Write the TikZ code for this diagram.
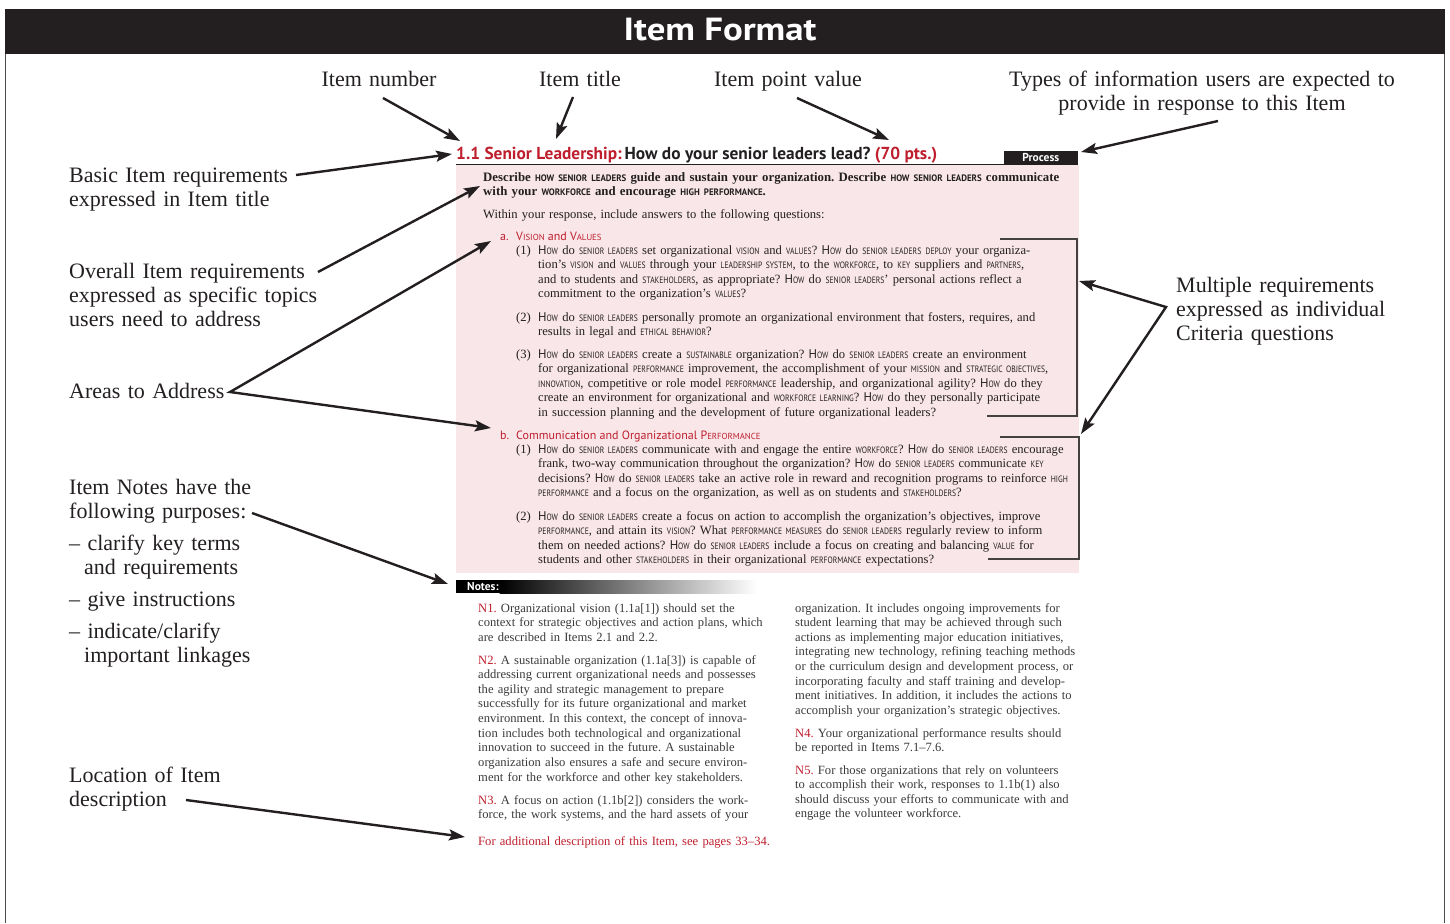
\documentclass[tikz,border=0pt]{standalone}
\usepackage{fontspec}
\usepackage{graphicx}
\setmainfont{Liberation Serif}
\newfontfamily\psf{PT Sans}
\newfontfamily\ksf[Scale=0.73]{PT Sans}
\usetikzlibrary{arrows.meta}
\definecolor{ink}{HTML}{231F20}
\definecolor{bred}{HTML}{BE1E2D}
\definecolor{pinkbg}{RGB}{248,230,232}
\definecolor{notegray}{HTML}{3A3A3A}
\def\kx{0.83}
\newcommand\K[1]{\scalebox{\kx}[1]{\ksf #1}}
\newcommand\How{{\psf H}\K{OW}}
\frenchspacing
\tikzset{
  lbl/.style={inner sep=0pt, anchor=base west, text width=420pt, align=left,
    font=\fontsize{22}{24}\selectfont, text=ink},
  lblc/.style={inner sep=0pt, anchor=base, text width=420pt, align=center,
    font=\fontsize{22}{24}\selectfont, text=ink},
  para/.style={inner sep=0pt, anchor=base west, text width=580pt, align=left,
    font=\frenchspacing\fontsize{12.6}{14.65}\selectfont, text=ink},
  note/.style={inner sep=0pt, anchor=base west, text width=330pt, align=left,
    font=\frenchspacing\fontsize{12.6}{14.65}\selectfont, text=notegray},
  shead/.style={inner sep=0pt, anchor=base west, text=bred,
    font=\def\kx{1}\psf\fontsize{12}{14}\selectfont},
  arr/.style={line width=2.4pt, draw=ink, -{Stealth[length=16pt,width=11pt,inset=3pt]}},
  arr2/.style={line width=2.4pt, draw=ink, {Stealth[length=16pt,width=11pt,inset=3pt]}-{Stealth[length=16pt,width=11pt,inset=3pt]}},
  bracket/.style={line width=1.1pt, draw=ink!85},
  frame/.style={line width=0.8pt, draw=ink!80},
}
\begin{document}
\begin{tikzpicture}[x=1pt,y=-1pt]
\useasboundingbox (0,0) rectangle (1450,923);
% header bar and frame
\fill[ink] (5,9) rectangle (1445,54);
\node[text=white, inner sep=0, font=\psf\bfseries\fontsize{32}{34}\selectfont] (hdr) at (720,30) {\scalebox{1.15}[1]{Item Format}};
\draw[frame] (5,54) -- (5,923);
\draw[frame] (1444.5,54) -- (1444.5,923);

% pink box
\fill[pinkbg] (456,165) rectangle (1079,573);
\draw[line width=1.5pt, ink] (456,164.5) -- (1078,164.5);
\node[fill=ink, text=white, font=\psf\bfseries\fontsize{11.5}{12}\selectfont, minimum width=74pt, minimum height=13pt, inner sep=0, anchor=south east] (proc) at (1078,164) {Process};
\node[anchor=base west, inner sep=0] (title) at (456,159)
  {\resizebox{481pt}{!}{\psf\bfseries\fontsize{15}{17}\selectfont\color{bred}1.1 Senior Leadership:\,\color{ink}How do your senior leaders lead? \color{bred}(70 pts.)}};

% pink box text
\node[para, font=\def\kx{0.95}\frenchspacing\bfseries\fontsize{12.8}{14.65}\selectfont] (desc) at (483,181)
  {Describe \K{HOW SENIOR LEADERS} guide and sustain your organization. Describe \K{HOW SENIOR LEADERS} communicate\\
   with your \K{WORKFORCE} and encourage \K{HIGH PERFORMANCE}.};
\node[para] (within) at (483,218) {Within your response, include answers to the following questions:};

\node[shead] (alab) at (500,240) {a.};
\node[shead] (ahead) at (516,240) {V\K{ISION} and V\K{ALUES}};
\node[para] (a1n) at (516,254) {(1)};
\node[para] (a1) at (538,254)
  {\How{} do \K{SENIOR LEADERS} set organizational \K{VISION} and \K{VALUES}? \How{} do \K{SENIOR LEADERS} \K{DEPLOY} your organiza-\\
   tion’s \K{VISION} and \K{VALUES} through your \K{LEADERSHIP SYSTEM}, to the \K{WORKFORCE}, to \K{KEY} suppliers and \K{PARTNERS},\\
   and to students and \K{STAKEHOLDERS}, as appropriate? \How{} do \K{SENIOR LEADERS}’ personal actions reflect a\\
   commitment to the organization’s \K{VALUES}?};
\node[para] (a2n) at (516,321) {(2)};
\node[para] (a2) at (538,321)
  {\How{} do \K{SENIOR LEADERS} personally promote an organizational environment that fosters, requires, and\\
   results in legal and \K{ETHICAL BEHAVIOR}?};
\node[para] (a3n) at (516,358) {(3)};
\node[para] (a3) at (538,358)
  {\How{} do \K{SENIOR LEADERS} create a \K{SUSTAINABLE} organization? \How{} do \K{SENIOR LEADERS} create an environment\\
   for organizational \K{PERFORMANCE} improvement, the accomplishment of your \K{MISSION} and \K{STRATEGIC OBJECTIVES},\\
   \K{INNOVATION}, competitive or role model \K{PERFORMANCE} leadership, and organizational agility? \How{} do they\\
   create an environment for organizational and \K{WORKFORCE LEARNING}? \How{} do they personally participate\\
   in succession planning and the development of future organizational leaders?};

\node[shead] (blab) at (500,439) {b.};
\node[shead] (bhead) at (516,439) {Communication and Organizational P\K{ERFORMANCE}};
\node[para] (b1n) at (516,453) {(1)};
\node[para] (b1) at (538,453)
  {\How{} do \K{SENIOR LEADERS} communicate with and engage the entire \K{WORKFORCE}? \How{} do \K{SENIOR LEADERS} encourage\\
   frank, two-way communication throughout the organization? \How{} do \K{SENIOR LEADERS} communicate \K{KEY}\\
   decisions? \How{} do \K{SENIOR LEADERS} take an active role in reward and recognition programs to reinforce \K{HIGH}\\
   \K{PERFORMANCE} and a focus on the organization, as well as on students and \K{STAKEHOLDERS}?};
\node[para] (b2n) at (516,520) {(2)};
\node[para] (b2) at (538,520)
  {\How{} do \K{SENIOR LEADERS} create a focus on action to accomplish the organization’s objectives, improve\\
   \K{PERFORMANCE}, and attain its \K{VISION}? What \K{PERFORMANCE MEASURES} do \K{SENIOR LEADERS} regularly review to inform\\
   them on needed actions? \How{} do \K{SENIOR LEADERS} include a focus on creating and balancing \K{VALUE} for\\
   students and other \K{STAKEHOLDERS} in their organizational \K{PERFORMANCE} expectations?};

% brackets
\draw[bracket] (1000,239) -| (1077,416) -- (987,416);
\draw[bracket] (1000,437) -| (1079,559) -- (988,559);

% notes bar
\fill[black] (456,580) rectangle (500,593);
\shade[left color=black, right color=white] (499.5,580) rectangle (757,593);
\node[anchor=west, inner sep=0, text=white, font=\psf\bfseries\fontsize{11.5}{12}\selectfont] (notes) at (467,586.5) {Notes:};

\node[note] (n1) at (478,612)
  {\textcolor{bred}{N1.} Organizational vision (1.1a[1]) should set the\\
   context for strategic objectives and action plans, which\\
   are described in Items 2.1 and 2.2.};
\node[note] (n2) at (478,664)
  {\textcolor{bred}{N2.} A sustainable organization (1.1a[3]) is capable of\\
   addressing current organizational needs and possesses\\
   the agility and strategic management to prepare\\
   successfully for its future organizational and market\\
   environment. In this context, the concept of innova-\\
   tion includes both technological and organizational\\
   innovation to succeed in the future. A sustainable\\
   organization also ensures a safe and secure environ-\\
   ment for the workforce and other key stakeholders.};
\node[note] (n3) at (478,804)
  {\textcolor{bred}{N3.} A focus on action (1.1b[2]) considers the work-\\
   force, the work systems, and the hard assets of your};
\node[note, text=bred] (addl) at (478,845)
  {For additional description of this Item, see pages 33–34.};
\node[note] (n3b) at (795,612)
  {organization. It includes ongoing improvements for\\
   student learning that may be achieved through such\\
   actions as implementing major education initiatives,\\
   integrating new technology, refining teaching methods\\
   or the curriculum design and development process, or\\
   incorporating faculty and staff training and develop-\\
   ment initiatives. In addition, it includes the actions to\\
   accomplish your organization’s strategic objectives.};
\node[note] (n4) at (795,737)
  {\textcolor{bred}{N4.} Your organizational performance results should\\
   be reported in Items 7.1–7.6.};
\node[note] (n5) at (795,774)
  {\textcolor{bred}{N5.} For those organizations that rely on volunteers\\
   to accomplish their work, responses to 1.1b(1) also\\
   should discuss your efforts to communicate with and\\
   engage the volunteer workforce.};

% labels
\node[lblc] (lnum) at (379,87) {Item number};
\node[lblc] (ltitle) at (580,87) {Item title};
\node[lblc] (lpts) at (788,87) {Item point value};
\node[lblc] (ltypes) at (1202,87) {Types of information users are expected to\\provide in response to this Item};
\node[lbl] (lbasic) at (69,182) {Basic Item requirements\\expressed in Item title};
\node[lbl] (loverall) at (69,278) {Overall Item requirements\\expressed as specific topics\\users need to address};
\node[lbl] (lareas) at (69,398) {Areas to Address};
\node[lbl] (lnotes) at (69,494) {Item Notes have the\\following purposes:};
\node[lbl] (lclar) at (69,550) {\textendash{} clarify key terms\\\hspace*{15pt}and requirements};
\node[lbl] (lgive) at (69,606) {\textendash{} give instructions};
\node[lbl] (lind) at (69,638) {\textendash{} indicate/clarify\\\hspace*{15pt}important linkages};
\node[lbl] (lloc) at (69,782) {Location of Item\\description};
\node[lbl] (lmult) at (1176,292) {Multiple requirements\\expressed as individual\\Criteria questions};

% arrow anchor coordinates
\coordinate (tnum) at (383,98);   \coordinate (hnum) at (460,141);
\coordinate (ttit) at (573,97);   \coordinate (htit) at (556,139);
\coordinate (tpts) at (797,98);   \coordinate (hpts) at (889,140);
\coordinate (ttyp) at (1218,121); \coordinate (htyp) at (1081,152);
\coordinate (tbas) at (296,175);  \coordinate (hbas) at (452,154);
\coordinate (tove) at (318,272);  \coordinate (hove) at (480,186);
\coordinate (jare) at (230,392);  \coordinate (hare1) at (491,241); \coordinate (hare2) at (491,428);
\coordinate (tnot) at (252,513);  \coordinate (hnot) at (448,584);
\coordinate (tloc) at (186,800);  \coordinate (hloc) at (465,837);
\coordinate (jmul) at (1166,307); \coordinate (hmul1) at (1079,281); \coordinate (hmul2) at (1081,434);

\draw[arr] (tnum) -- (hnum);
\draw[arr] (ttit) -- (htit);
\draw[arr] (tpts) -- (hpts);
\draw[arr] (ttyp) -- (htyp);
\draw[arr] (tbas) -- (hbas);
\draw[arr] (tove) -- (hove);
\draw[arr2] (hare1) -- (jare) -- (hare2);
\draw[arr] (tnot) -- (hnot);
\draw[arr] (tloc) -- (hloc);
\draw[arr2] (hmul1) -- (jmul) -- (hmul2);
\end{tikzpicture}
\end{document}
